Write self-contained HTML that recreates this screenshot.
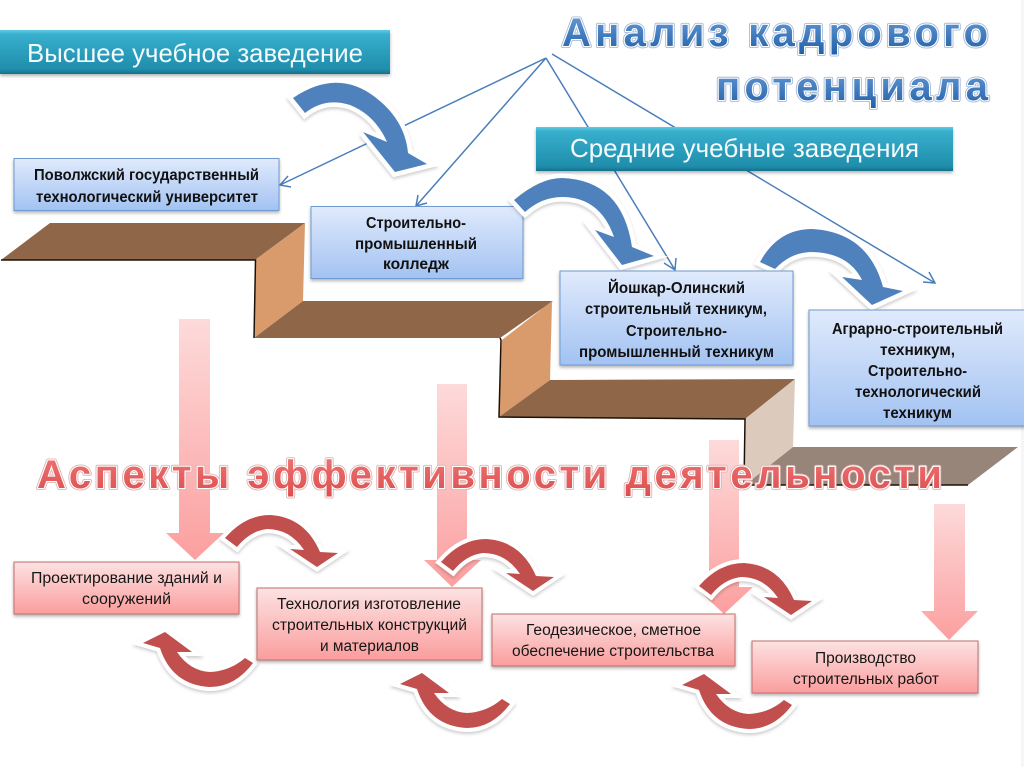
<!DOCTYPE html>
<html lang="ru"><head><meta charset="utf-8"><title>Анализ кадрового потенциала</title>
<style>html,body{margin:0;padding:0;background:#fff}svg{display:block}
text{font-family:"Liberation Sans","DejaVu Sans",sans-serif}
.b{font-weight:bold;font-size:15.5px;fill:#111}
.r{font-size:15.5px;fill:#161616}
.w{font-size:26px;fill:#f4fbfd}
.t{font-weight:bold;font-size:40px;stroke-linejoin:round}
.o1{fill:none;stroke:#a6b9d4;stroke-width:4px}
.o2{fill:none;stroke:#fff;stroke-width:2.2px}
.o3{fill:none;stroke:#dcb4b4;stroke-width:4px}
</style></head><body>
<svg width="1024" height="767" viewBox="0 0 1024 767" xmlns="http://www.w3.org/2000/svg">
<defs>
<linearGradient id="teal" x1="0" y1="0" x2="0" y2="1"><stop offset="0" stop-color="#5fcbe2"/><stop offset=".1" stop-color="#37afcd"/><stop offset=".9" stop-color="#1f8dab"/><stop offset="1" stop-color="#16708a"/></linearGradient>
<linearGradient id="blue" x1="0" y1="0" x2="0" y2="1"><stop offset="0" stop-color="#e0eafc"/><stop offset="1" stop-color="#a2c2f2"/></linearGradient>
<linearGradient id="red" x1="0" y1="0" x2="0" y2="1"><stop offset="0" stop-color="#fce2e2"/><stop offset="1" stop-color="#fb9d9d"/></linearGradient>
<linearGradient id="pink" x1="0" y1="0" x2="0" y2="1"><stop offset="0" stop-color="#fddada"/><stop offset="1" stop-color="#fc9f9f"/></linearGradient>
<linearGradient id="tb" x1="0" y1="0" x2="0" y2="1"><stop offset="0" stop-color="#6ea0da"/><stop offset="1" stop-color="#1f5fa8"/></linearGradient>
<linearGradient id="tr" x1="0" y1="0" x2="0" y2="1"><stop offset="0" stop-color="#ef7676"/><stop offset="1" stop-color="#dc4e4e"/></linearGradient>
<filter id="sh" x="-10%" y="-10%" width="120%" height="125%"><feDropShadow dx="0" dy="2" stdDeviation="1.500" flood-color="#000" flood-opacity=".3"/></filter>
<filter id="sh2" x="-15%" y="-15%" width="130%" height="135%"><feDropShadow dx="0" dy="2" stdDeviation="1.500" flood-color="#000" flood-opacity=".2"/></filter>
<path id="ab" d="M293 98 Q337 68 375 97 Q405 120 408 153 L427 164 L395 172 L363 132 L387 142 Q375 115 350 105 Q325 97 305 113 Z" fill="#4f81bd" stroke="#fff" stroke-width="9" stroke-linejoin="miter" paint-order="stroke" filter="url(#sh2)"/>
<path id="au" d="M225 538 Q245 515 270 515 Q305 517 320 552 L338 553 L317 567 L290 549 L304 550 Q290 529 267 529 Q250 531 237 547 Z" fill="#c0504d" stroke="#fff" stroke-width="8" paint-order="stroke" filter="url(#sh2)"/>
<path id="ad" d="M253 663 Q235 687 210 687 Q172 685 160 648 L143 643 L165 632 L192 652 L177 652 Q190 671 210 672 Q230 671 245 658 Z" fill="#c0504d" stroke="#fff" stroke-width="8" paint-order="stroke" filter="url(#sh2)"/>
</defs>
<rect width="1024" height="767" fill="#fff"/>
<rect x="1021" y="0" width="3" height="767" fill="#f6f6f6"/>

<!-- stairs -->
<polygon points="1,260 50,223 305,223 255,260" fill="#8f6648"/>
<polygon points="255,260 305,223 303,301 254,338" fill="#d99a6c"/>
<polygon points="254,338 303,301 553,301 500,338" fill="#8f6648"/>
<polygon points="502,340 552,301 550,380 499,417" fill="#d99a6c"/>
<polygon points="499,417 550,380 795,379 745,419" fill="#8f6648"/>
<polygon points="745,419 795,379 793,447 745,485" fill="#dccbbd"/>
<polygon points="745,485 793,447 1018,447 968,485" fill="#968578"/>
<polyline points="1,260 255.500,260 254,338" fill="none" stroke="#1a1208" stroke-width="1.500"/>
<polyline points="500,338 501,340 499,417 745,419 744,485 968,485" fill="none" stroke="#1a1208" stroke-width="1.500"/>

<!-- connector lines -->
<g fill="none" stroke="#4a7ebb" stroke-width="1.500">
<path d="M546 58 L280 185 M291 187 L280 185 L288 176"/>
<path d="M546 58 L416 206 M427 203 L416 206 L418 195"/>
<path d="M546 58 L675 270 M664 263 L675 270 L676 258"/>
<path d="M552 54 L935 283 M923 282 L935 283 L929 272"/>
</g>

<!-- pink arrows -->
<path d="M179 319H210V533H224L195 560L166 533H179Z" fill="url(#pink)"/>
<path d="M437 384H467V560H481L452 587L424 560H437Z" fill="url(#pink)"/>
<path d="M709 440H739V587H753L724 614L695 587H709Z" fill="url(#pink)"/>
<path d="M934 504H965V611H978L949 640L921 611H934Z" fill="url(#pink)"/>

<!-- blue curved arrows -->
<use href="#ab"/>
<path d="M760 262 Q778 229 812 229 Q868 232 883 287 L903 291 L872 305 L842 277 L862 280 Q848 252 810 252 Q790 253 775 269 Z" fill="#4f81bd" stroke="#fff" stroke-width="9" paint-order="stroke" filter="url(#sh2)"/>

<!-- teal boxes -->
<rect x="0" y="30" width="390" height="44" fill="url(#teal)" filter="url(#sh)"/>
<rect x="536" y="127" width="417" height="44" fill="url(#teal)" filter="url(#sh)"/>
<text class="w" x="27" y="62" textLength="336" lengthAdjust="spacingAndGlyphs">Высшее учебное заведение</text>
<text class="w" x="570" y="157" textLength="349" lengthAdjust="spacingAndGlyphs">Средние учебные заведения</text>

<!-- blue boxes -->
<g fill="url(#blue)" stroke="#6f9bd0" stroke-width="1" filter="url(#sh)">
<rect x="14" y="158.500" width="265" height="52"/>
<rect x="311" y="206.500" width="212" height="72"/>
</g>
<path d="M514 200 Q540 178 562 178 Q622 180 632 247 L654 256 L622 265 L595 230 L614 237 Q600 197 562 197 Q542 197 525 212 Z" fill="#4f81bd" stroke="#fff" stroke-width="9" paint-order="stroke" filter="url(#sh2)"/>
<g fill="url(#blue)" stroke="#6f9bd0" stroke-width="1" filter="url(#sh)">
<rect x="560" y="271" width="233" height="94"/>
<rect x="809" y="310" width="216" height="116"/>
</g>
<text class="b" x="34" y="180" textLength="225" lengthAdjust="spacingAndGlyphs">Поволжский государственный</text>
<text class="b" x="36" y="202" textLength="222" lengthAdjust="spacingAndGlyphs">технологический университет</text>
<text class="b" x="366" y="228" textLength="100" lengthAdjust="spacingAndGlyphs">Строительно-</text>
<text class="b" x="355" y="249" textLength="122" lengthAdjust="spacingAndGlyphs">промышленный</text>
<text class="b" x="383" y="269" textLength="66" lengthAdjust="spacingAndGlyphs">колледж</text>
<text class="b" x="608" y="293" textLength="137" lengthAdjust="spacingAndGlyphs">Йошкар-Олинский</text>
<text class="b" x="585" y="314" textLength="182" lengthAdjust="spacingAndGlyphs">строительный техникум,</text>
<text class="b" x="626" y="336" textLength="101" lengthAdjust="spacingAndGlyphs">Строительно-</text>
<text class="b" x="579" y="357" textLength="195" lengthAdjust="spacingAndGlyphs">промышленный техникум</text>
<text class="b" x="832" y="334" textLength="171" lengthAdjust="spacingAndGlyphs">Аграрно-строительный</text>
<text class="b" x="880" y="355" textLength="75" lengthAdjust="spacingAndGlyphs">техникум,</text>
<text class="b" x="868" y="376" textLength="99" lengthAdjust="spacingAndGlyphs">Строительно-</text>
<text class="b" x="855" y="397" textLength="126" lengthAdjust="spacingAndGlyphs">технологический</text>
<text class="b" x="883" y="418" textLength="69" lengthAdjust="spacingAndGlyphs">техникум</text>

<!-- red curved arrows -->
<use href="#au"/>
<use href="#au" transform="translate(216 24)"/>
<use href="#au" transform="translate(474 48)"/>
<use href="#ad"/>
<use href="#ad" transform="translate(257 41)"/>
<use href="#ad" transform="translate(539 42)"/>

<!-- red boxes -->
<g fill="url(#red)" stroke="#c0706e" stroke-width="1" filter="url(#sh)">
<rect x="14" y="562" width="225" height="52"/>
<rect x="257" y="588" width="225" height="72"/>
<rect x="492" y="614" width="243" height="52"/>
<rect x="752" y="641" width="226" height="52"/>
</g>
<text class="r" x="31" y="583" textLength="191" lengthAdjust="spacingAndGlyphs">Проектирование зданий и</text>
<text class="r" x="82" y="604" textLength="89" lengthAdjust="spacingAndGlyphs">сооружений</text>
<text class="r" x="277" y="609" textLength="184" lengthAdjust="spacingAndGlyphs">Технология изготовление</text>
<text class="r" x="272" y="630" textLength="195" lengthAdjust="spacingAndGlyphs">строительных конструкций</text>
<text class="r" x="320" y="651" textLength="99" lengthAdjust="spacingAndGlyphs">и материалов</text>
<text class="r" x="526" y="635" textLength="175" lengthAdjust="spacingAndGlyphs">Геодезическое, сметное</text>
<text class="r" x="512" y="656" textLength="202" lengthAdjust="spacingAndGlyphs">обеспечение строительства</text>
<text class="r" x="815" y="663" textLength="101" lengthAdjust="spacingAndGlyphs">Производство</text>
<text class="r" x="793" y="684" textLength="146" lengthAdjust="spacingAndGlyphs">строительных работ</text>

<!-- titles -->
<g transform="translate(562 46)">
<text class="t o1" x="0" y="0" textLength="426" lengthAdjust="spacing">Анализ кадрового</text>
<text class="t o2" x="0" y="0" textLength="426" lengthAdjust="spacing">Анализ кадрового</text>
<text class="t" x="0" y="0" textLength="426" lengthAdjust="spacing" fill="url(#tb)">Анализ кадрового</text>
</g>
<g transform="translate(716 100)">
<text class="t o1" x="0" y="0" textLength="272" lengthAdjust="spacing">потенциала</text>
<text class="t o2" x="0" y="0" textLength="272" lengthAdjust="spacing">потенциала</text>
<text class="t" x="0" y="0" textLength="272" lengthAdjust="spacing" fill="url(#tb)">потенциала</text>
</g>
<g transform="translate(37 488)">
<text class="t o3" x="0" y="0" textLength="905" lengthAdjust="spacing">Аспекты эффективности деятельности</text>
<text class="t o2" x="0" y="0" textLength="905" lengthAdjust="spacing">Аспекты эффективности деятельности</text>
<text class="t" x="0" y="0" textLength="905" lengthAdjust="spacing" fill="url(#tr)">Аспекты эффективности деятельности</text>
</g>
</svg>
</body></html>
